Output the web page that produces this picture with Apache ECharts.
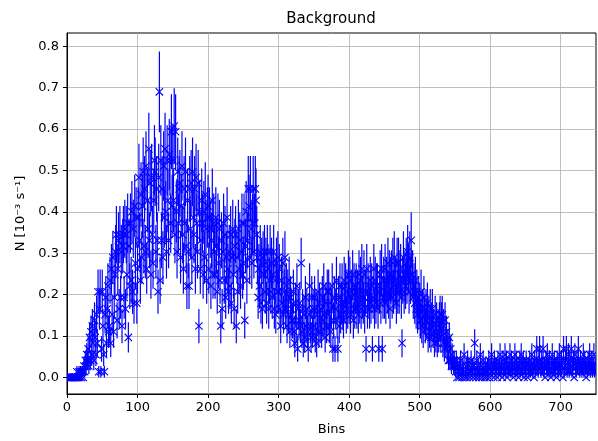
<!DOCTYPE html>
<html>
<head>
<meta charset="utf-8">
<script src="https://cdn.jsdelivr.net/npm/echarts@6/dist/echarts.min.js"></script>
<style>
  html, body { margin: 0; padding: 0; background: #fff; }
  #chart { width: 598px; height: 441px; }
</style>
</head>
<body>
<div id="chart"></div>
<script>
// counts per bin (N = counts * rateScale, error = sqrt(counts) * rateScale)
const countsBins0to99 = [
  0,0,0,0,0,0,0,0,0,0, 0,0,0,0,1,0,0,1,0,1, 0,1,1,0,2,1,3,2,4,3, 5,2,7,3,8,4,9,6,3,10,
  7,4,11,6,15,1,12,15,1,5, 15,9,4,1,11,14,6,12,16,8, 9,17,6,19,11,21,8,14,18,22,
  25,10,19,24,12,25,14,22,9,23, 25,14,26,12,25,18,27,7,23,16, 27,17,29,15,26,13,30,20,28,13
]
const countsBins100to199 = [
  19,28,35,24,17,32,21,30,36,23, 33,22,37,19,31,26,40,24,34,18, 35,25,20,31,38,36,22,33,24,15,
  35,50,17,38,24,33,21,37,28,40, 29,22,38,31,24,39,38,27,43,30, 38,31,44,25,43,29,22,36,27,33,
  34,21,30,37,25,19,33,27,36,23, 16,31,22,16,33,26,34,21,36,28, 25,33,19,35,27,22,34,9,29,19,
  24,31,27,18,29,21,32,26,17,28
]
const countsBins200to299 = [
  30,19,28,26,16,24,31,18,27,22, 18,28,23,15,27,20,26,17,9,24, 12,22,27,17,25,14,21,28,19,15,
  22,16,25,13,21,26,18,12,23,25, 9,21,15,26,19,24,16,22,27,18, 20,27,10,23,29,17,24,33,30,21,
  33,26,20,27,33,22,27,33,31,25, 21,14,19,16,22,13,20,12,21,18, 22,15,20,13,22,19,12,17,22,15,
  20,14,18,22,12,17,11,20,15,21
]
const countsBins300to399 = [
  15,19,12,9,17,13,20,11,15,21, 12,16,9,15,11,17,8,14,12,10, 10,15,8,6,13,9,16,5,12,10,
  13,9,20,8,12,6,11,7,14,9, 12,8,5,11,16,9,7,14,8,12, 9,14,7,12,6,11,15,8,13,9,
  12,8,14,10,16,11,7,13,9,15, 11,15,9,13,8,12,16,5,10,14, 5,12,17,10,5,14,9,16,11,13,
  16,12,10,17,13,16,11,15,12,18
]
const countsBins400to499 = [
  13,17,11,15,14,18,10,16,12,15, 16,12,15,11,18,13,17,12,19,14, 13,18,11,15,5,19,12,16,14,12,
  17,13,16,5,14,19,12,17,13,16, 16,12,5,15,18,13,19,5,14,17, 14,19,13,17,15,20,14,18,12,17,
  18,14,20,15,21,16,17,13,20,15, 20,15,18,19,14,6,17,21,15,18, 16,20,17,22,19,15,21,17,24,18,
  18,14,16,13,17,12,15,11,14,12
]
const countsBins500to549 = [
  13,10,15,9,12,8,14,11,9,12, 10,13,7,11,8,12,7,10,12,8, 9,6,11,7,10,6,9,7,10,11,
  7,10,11,6,9,5,10,6,8,5, 6,3,7,3,5,2,4,3,2,3
]
const countsBins550to749 = [
  2,1,3,0,2,1,0,2,3,1, 0,2,1,4,0,1,2,0,3,1, 2,0,1,3,1,2,0,2,6,1, 0,3,1,2,0,1,4,2,0,1,
  3,1,0,2,1,0,2,1,3,0, 2,1,4,1,2,0,3,2,1,2, 0,3,1,2,4,1,2,0,3,1, 2,4,1,3,0,2,1,2,4,1,
  3,1,2,0,2,4,1,3,2,1, 0,2,3,1,4,2,1,3,0,2, 1,3,2,0,2,1,3,1,2,4, 1,2,0,3,1,2,5,2,1,3,
  5,2,1,3,2,5,1,2,0,3, 2,4,1,2,3,1,0,2,4,1, 2,3,1,2,0,3,2,1,4,2, 1,3,2,0,5,1,2,3,5,1,
  2,4,1,3,2,5,1,2,3,0, 4,2,1,3,2,5,2,1,3,2, 1,2,4,1,3,2,0,2,1,3, 2,4,1,2,3,1,2,4,1,2
]
const rateScale = 0.0138

const xTicks = [0, 100, 200, 300, 400, 500, 600, 700]
const yTicks = [0, 0.1, 0.2, 0.3, 0.4, 0.5, 0.6, 0.7, 0.8]

const BLUE = '#0000ff'
const FONT = 'DejaVu Sans'

const counts = [].concat(countsBins0to99, countsBins100to199, countsBins200to299,
  countsBins300to399, countsBins400to499, countsBins500to549, countsBins550to749)

const points = counts.map((k, i) => [i, k * rateScale, Math.sqrt(k) * rateScale])

const renderErrorBar = (params, api) => {
  const x = api.value(0)
  const y = api.value(1)
  const e = api.value(2)
  const hi = api.coord([x, y + e])
  const lo = api.coord([x, y - e])
  return {
    type: 'line',
    shape: { x1: hi[0], y1: hi[1], x2: lo[0], y2: lo[1] },
    style: { stroke: BLUE, lineWidth: 1.2 }
  }
}

const renderCross = (params, api) => {
  const p = api.coord([api.value(0), api.value(1)])
  const s = 3.7
  return {
    type: 'path',
    shape: {
      pathData: `M${p[0] - s},${p[1] - s}L${p[0] + s},${p[1] + s}M${p[0] - s},${p[1] + s}L${p[0] + s},${p[1] - s}`
    },
    style: { stroke: BLUE, fill: null, lineWidth: 1.1 }
  }
}

const chart = echarts.init(document.getElementById('chart'), null, { renderer: 'canvas' })

const axisCommon = {
  type: 'value',
  axisLine: { show: true, onZero: false, lineStyle: { color: '#000', width: 1 } },
  axisTick: { show: true, inside: false, length: 4, lineStyle: { color: '#000', width: 1 } },
  splitLine: { show: true, lineStyle: { color: '#b0b0b0', width: 0.8 } },
  nameLocation: 'middle',
  nameTextStyle: { color: '#000', fontSize: 13, fontFamily: FONT }
}

const option = {
  animation: false,
  backgroundColor: '#fff',
  graphic: [{
    type: 'text',
    x: 331,
    y: 19,
    style: {
      text: 'Background',
      fill: '#000',
      font: '15px "DejaVu Sans"',
      textAlign: 'center',
      textVerticalAlign: 'middle'
    }
  }],
  grid: {
    left: 67, right: 2, top: 33, bottom: 41,
    show: true, borderColor: '#000', borderWidth: 1
  },
  xAxis: {
    ...axisCommon,
    min: 0,
    max: 750,
    name: 'Bins',
    nameGap: 29,
    axisTick: { ...axisCommon.axisTick, customValues: xTicks },
    axisLabel: { customValues: xTicks, color: '#000', fontSize: 13, fontFamily: FONT, margin: 7 }
  },
  yAxis: {
    ...axisCommon,
    min: -0.04,
    max: 0.832,
    name: 'N [10⁻³ s⁻¹]',
    nameGap: 39,
    nameRotate: 90,
    axisTick: { ...axisCommon.axisTick, customValues: yTicks },
    axisLabel: {
      customValues: yTicks, color: '#000', fontSize: 13, fontFamily: FONT, margin: 8,
      formatter: v => v.toFixed(1)
    }
  },
  series: [
    { type: 'custom', name: 'err', data: points, renderItem: renderErrorBar, silent: true, clip: true },
    { type: 'custom', name: 'N', data: points, renderItem: renderCross, silent: true, clip: true }
  ]
}

chart.setOption(option)
</script>
</body>
</html>
